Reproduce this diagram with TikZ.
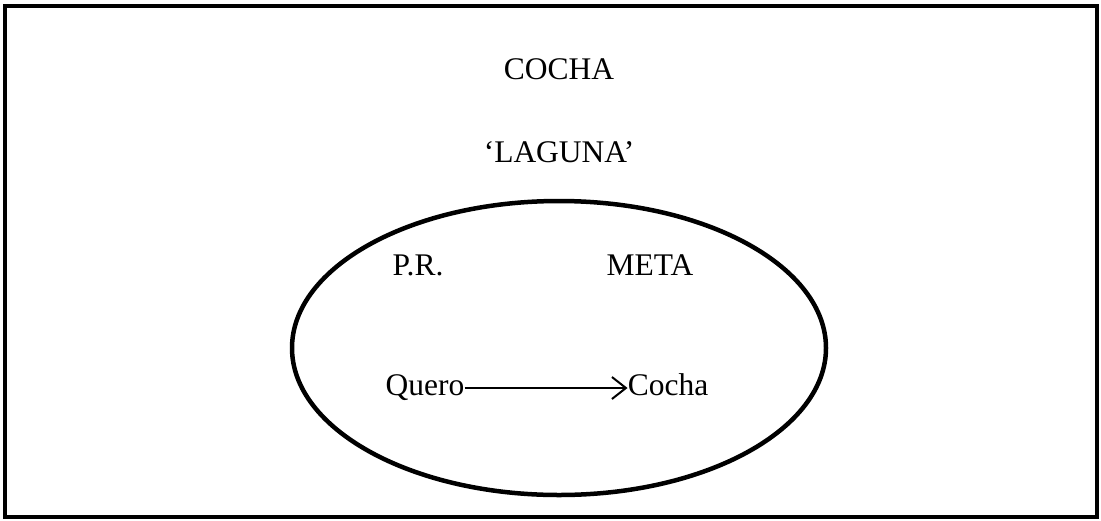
\documentclass[tikz,border=0pt]{standalone}
\usepackage{fontspec}
\setmainfont{Liberation Serif}
\usepackage{tikz}
\usetikzlibrary{arrows.meta, positioning}

\begin{document}
\begin{tikzpicture}[
  x=1pt, y=-1pt,
  lbl/.style={inner sep=1pt, text height=21pt, text depth=7pt, font=\fontsize{31.5}{36}\selectfont},
  arr/.style={-{Straight Barb[length=14pt, width=22pt, line width=2pt]}, line width=2pt}
]
\useasboundingbox (0,0) rectangle (1101,520);
\draw[line width=3.5pt] (5,6) rectangle (1097,517);
\draw[line width=4.5pt] (559,348) ellipse [x radius=267, y radius=147];

\node (cocha)  [lbl] at (559,72)  {COCHA};
\node (laguna) [lbl] at (559,155) {`LAGUNA'};
\node (pr)     [lbl] at (418,268) {P.R.};
\node (meta)   [lbl] at (650,268) {META};
\node (quero)  [lbl, inner sep=0pt] at (425,388) {Quero};
\node (target) [lbl, inner sep=0pt, right=163pt of quero] {Cocha};

\draw[arr] (quero) -- (target);
\end{tikzpicture}
\end{document}
